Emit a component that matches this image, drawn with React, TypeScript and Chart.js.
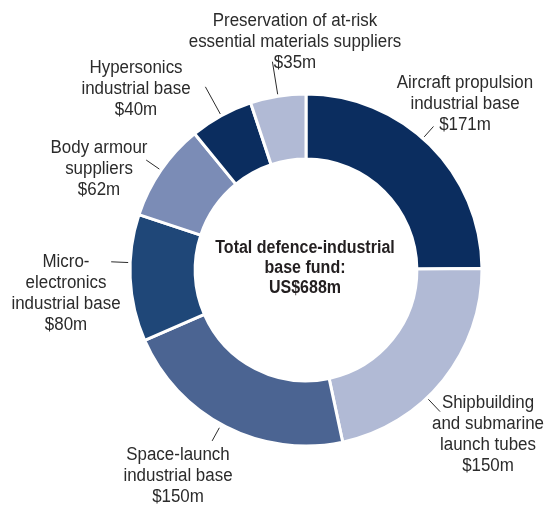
import React, { useEffect, useRef } from "react";
import { Chart, registerables } from "chart.js";

Chart.register(...registerables);

const categories = [
  "Aircraft propulsion industrial base",
  "Shipbuilding and submarine launch tubes",
  "Space-launch industrial base",
  "Micro-electronics industrial base",
  "Body armour suppliers",
  "Hypersonics industrial base",
  "Preservation of at-risk essential materials suppliers",
];
const values = [171, 150, 150, 80, 62, 40, 35];
const valueLabels = ["$171m", "$150m", "$150m", "$80m", "$62m", "$40m", "$35m"];
const labelLines = [
  ["Aircraft propulsion", "industrial base"],
  ["Shipbuilding", "and submarine", "launch tubes"],
  ["Space-launch", "industrial base"],
  ["Micro-", "electronics", "industrial base"],
  ["Body armour", "suppliers"],
  ["Hypersonics", "industrial base"],
  ["Preservation of at-risk", "essential materials suppliers"],
];
const centerLines = ["Total defence-industrial", "base fund:", "US$688m"];

const colors = ["#0b2d5f", "#b1bad5", "#4b6492", "#1f4778", "#7b8cb6", "#0b2d5f", "#b1bad5"];

// label layout: offset of first line centre from chart centre, leader line (fraction in slice, r extra start, r extra end)
const labelLayout = [
  { dx: 159, dy: -187, f: 0.465, r1: 2, r2: 16 },
  { dx: 182, dy: 133, f: 0.6, r1: 2, r2: 19 },
  { dx: -128, dy: 185, f: 0.52, r1: 4, r2: 19 },
  { dx: -240, dy: -8, f: 0.62, r1: 2, r2: 19 },
  { dx: -207, dy: -122, f: 0.5, r1: 2, r2: 18 },
  { dx: -170, dy: -202, f: 0.5, r1: 2, r2: 33 },
  { dx: -11, dy: -249, f: 0.5, r1: 2, r2: 35 },
];

const FONT = '"Liberation Sans", Arial, sans-serif';
const LINE_H = 21;

const labelPlugin = {
  id: "labels",
  afterDraw(chart: any) {
    const ctx = chart.ctx;
    const meta = chart.getDatasetMeta(0);
    const arcs = meta.data;
    if (!arcs.length) return;
    const cx = arcs[0].x;
    const cy = arcs[0].y;
    ctx.save();
    ctx.fillStyle = "#2b2b2b";
    ctx.strokeStyle = "#2b2b2b";
    ctx.lineWidth = 1;
    ctx.textAlign = "center";
    ctx.textBaseline = "middle";
    ctx.font = `18px ${FONT}`;
    arcs.forEach((arc: any, i: number) => {
      const lay = labelLayout[i];
      const a = arc.startAngle + (arc.endAngle - arc.startAngle) * lay.f;
      const ro = arc.outerRadius;
      ctx.beginPath();
      ctx.moveTo(cx + Math.cos(a) * (ro + lay.r1), cy + Math.sin(a) * (ro + lay.r1));
      ctx.lineTo(cx + Math.cos(a) * (ro + lay.r2), cy + Math.sin(a) * (ro + lay.r2));
      ctx.stroke();
      const lines = [...labelLines[i], valueLabels[i]];
      lines.forEach((t, k) => {
        ctx.save();
        ctx.translate(cx + lay.dx, cy + lay.dy + k * LINE_H);
        ctx.scale(0.94, 1);
        ctx.fillText(t, 0, 0);
        ctx.restore();
      });
    });
    ctx.font = `bold 18px ${FONT}`;
    ctx.fillStyle = "#231f20";
    centerLines.forEach((t, k) => {
      ctx.save();
      ctx.translate(cx - 1, cy - 22 + k * (LINE_H - 1));
      ctx.scale(0.89, 1);
      ctx.fillText(t, 0, 0);
      ctx.restore();
    });
    ctx.restore();
  },
};

export default function App() {
  const ref = useRef<HTMLCanvasElement>(null);
  useEffect(() => {
    if (!ref.current) return;
    const chart = new Chart(ref.current, {
      type: "doughnut",
      data: {
        labels: categories,
        datasets: [
          {
            data: values,
            backgroundColor: colors,
            borderColor: "#ffffff",
            borderWidth: 3,
          },
        ],
      },
      options: {
        animation: false,
        responsive: true,
        maintainAspectRatio: false,
        cutout: "63%",
        layout: { padding: { left: 128.5, right: 63.5, top: 92.5, bottom: 59.5 } },
        plugins: { legend: { display: false }, tooltip: { enabled: false } },
      },
      plugins: [labelPlugin],
    });
    return () => chart.destroy();
  }, []);
  return (
    <div style={{ position: "fixed", left: 0, top: 0, width: 547, height: 507, background: "#fff" }}>
      <canvas ref={ref} />
    </div>
  );
}
